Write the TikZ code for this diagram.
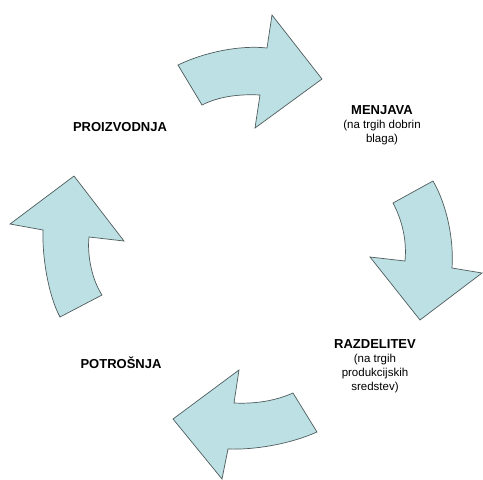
\documentclass[tikz,border=0pt]{standalone}
\usepackage{fontspec}
\setmainfont{Liberation Sans}
\usetikzlibrary{positioning}
\definecolor{arrowfill}{HTML}{BCE0E3}
\definecolor{arrowline}{HTML}{4F5C5E}
\newcommand{\subnote}[1]{{\fontsize{11.5}{15}\selectfont #1}}

\tikzset{
  cyclearrow/.style={draw=arrowline, fill=arrowfill, line width=0.7pt, line join=miter},
  phase/.style={font=\fontsize{13}{15}\selectfont\bfseries, align=center, inner sep=0pt}
}

\begin{document}
\begin{tikzpicture}[x=1pt, y=-1pt]
  \useasboundingbox (0,0) rectangle (483,480);

  % top arrow: proizvodnja -> menjava
  \draw[cyclearrow] (178,65) .. controls (205,52) and (240,45) .. (267,48)
    -- (272,15) -- (322,79) -- (255,128) -- (260,95)
    .. controls (240,94) and (220,96) .. (202,105) -- cycle;
  % right arrow: menjava -> razdelitev
  \draw[cyclearrow] (433,181) .. controls (447,205) and (454,240) .. (452,268)
    -- (482,273) -- (420,320) -- (370,257) -- (405,261)
    .. controls (407,240) and (402,220) .. (393,203) -- cycle;
  % bottom arrow: razdelitev -> potrosnja
  \draw[cyclearrow] (317,432) .. controls (290,444) and (255,450) .. (228,449)
    -- (222,479) -- (173,419) -- (239,370) -- (234,403)
    .. controls (255,404) and (275,401) .. (293,393) -- cycle;
  % left arrow: potrosnja -> proizvodnja
  \draw[cyclearrow] (60,317) .. controls (48,295) and (42,255) .. (43,230)
    -- (10,224) -- (74,176) -- (124,241) -- (89,237)
    .. controls (87,255) and (92,280) .. (102,295) -- cycle;

  % phases
  \node[phase] (proizvodnja) at (120,127) {PROIZVODNJA};
  \node[phase, anchor=north] (menjava) at (382,105) {MENJAVA\\[-1pt]\mdseries\subnote{(na trgih dobrin}\\[-1pt]\mdseries\subnote{blaga)}};
  \node[phase, anchor=north] (razdelitev) at (375,339) {RAZDELITEV\\[-1pt]\mdseries\subnote{(na trgih}\\[-1pt]\mdseries\subnote{produkcijskih}\\[-1pt]\mdseries\subnote{sredstev)}};
  \node[phase] (potrosnja) at (121,363) {POTROŠNJA};
\end{tikzpicture}
\end{document}
